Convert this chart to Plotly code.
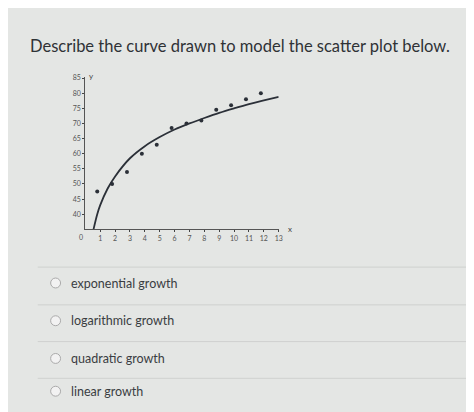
import plotly.graph_objects as go

pts_x = [0.8, 1.8, 2.8, 3.8, 4.8, 5.8, 6.8, 7.8, 8.8, 9.8, 10.8, 11.8]
pts_y = [47.5, 50, 54, 60, 63, 68.5, 70, 71, 74.5, 76, 78, 80]
curve_x = [0.55, 0.8, 1, 1.5, 2, 3, 4, 5, 6, 7, 8, 9, 10, 11, 12, 13]
curve_y = [35, 40, 43, 48.5, 52.5, 58.5, 62.5, 65.5, 68, 70, 71.8, 73.5, 75, 76.4, 77.6, 78.8]
x_ticks = list(range(1, 14))
y_ticks = [40, 45, 50, 55, 60, 65, 70, 75, 80, 85]
choices = ["exponential growth", "logarithmic growth", "quadratic growth", "linear growth"]

W, H = 474, 412
fig = go.Figure()
fig.add_trace(go.Scatter(x=curve_x, y=curve_y, mode="lines",
                         line=dict(color="#2b3038", width=1.8, shape="spline"), hoverinfo="skip"))
fig.add_trace(go.Scatter(x=pts_x, y=pts_y, mode="markers",
                         marker=dict(color="#2b3038", size=4)))

def px(xp): return xp / W
def py(yp): return 1 - yp / H

fig.update_layout(
    width=W, height=H, margin=dict(l=0, r=0, t=0, b=0), showlegend=False,
    paper_bgcolor="#e4e6e4", plot_bgcolor="rgba(0,0,0,0)",
    font=dict(family="Lato, sans-serif", color="#3a3d42"),
    xaxis=dict(domain=[px(78), px(273)], range=[0, 13], tickvals=x_ticks,
               showgrid=False, zeroline=False, showline=True, linecolor="#555",
               ticks="outside", ticklen=2, tickfont=dict(size=7, color="#555")),
    yaxis=dict(domain=[py(220), py(66)], range=[35, 85.5], tickvals=y_ticks,
               showgrid=False, zeroline=False, showline=True, linecolor="#555",
               ticks="outside", ticklen=2, tickfont=dict(size=7, color="#555")),
)
P = dict(xref="paper", yref="paper", showarrow=False)
ann = [
    dict(x=px(20), y=py(35), text="Describe the curve drawn to model the scatter plot below.",
         font=dict(size=16.5, color="#2f3236"), xanchor="left", yanchor="middle", **P),
    dict(x=px(70), y=py(228), text="0", font=dict(size=7, color="#555"), **P),
    dict(x=px(284), y=py(220), text="x", font=dict(size=8, color="#444"), **P),
    dict(x=px(80), y=py(58), text="y", font=dict(size=8, color="#444"), **P),
]
shapes = []
for i, c in enumerate(choices):
    yc = [274, 312, 350, 383][i]
    ann.append(dict(x=px(62), y=py(yc), text=c, font=dict(size=12.5, color="#3a3d42"),
                    xanchor="left", yanchor="middle", **P))
    shapes.append(dict(type="circle", xref="paper", yref="paper",
                       x0=px(43), x1=px(53), y0=py(yc + 5), y1=py(yc - 5),
                       line=dict(color="#aaa", width=1), fillcolor="#f2f2f2"))
for yl in [258, 296, 333, 370, 405]:
    shapes.append(dict(type="line", xref="paper", yref="paper", x0=px(30), x1=1,
                       y0=py(yl), y1=py(yl), line=dict(color="#cfd1cf", width=1)))
fig.update_layout(annotations=ann, shapes=shapes)
fig.write_html("out.html")
